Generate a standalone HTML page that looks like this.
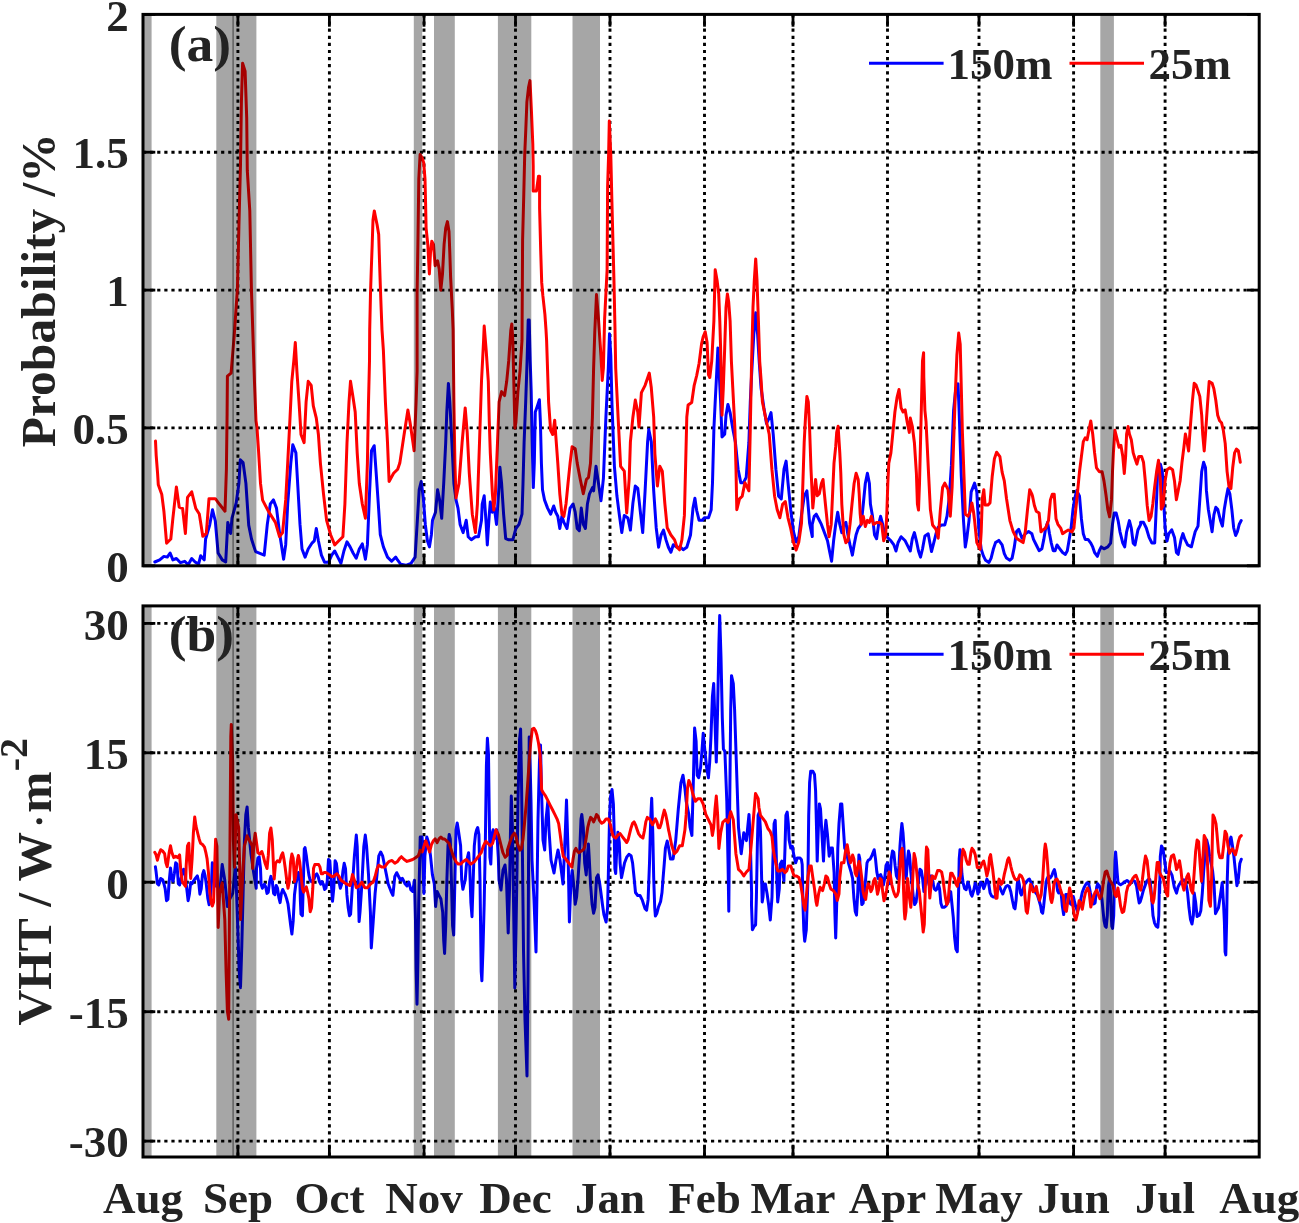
<!DOCTYPE html>
<html><head><meta charset="utf-8"><style>
html,body{margin:0;padding:0;background:#fff;}
svg{display:block;will-change:transform;}
text{font-family:"Liberation Serif",serif;font-weight:bold;fill:#232323;}
</style></head><body>
<svg width="1299" height="1223" viewBox="0 0 1299 1223">
<rect width="1299" height="1223" fill="#fff"/>
<clipPath id="clipa"><rect x="143.0" y="14.4" width="1116.2" height="551.4"/></clipPath>
<g clip-path="url(#clipa)">
<line x1="237.9" y1="14.4" x2="237.9" y2="565.8" stroke="#000" stroke-width="2.9" stroke-dasharray="3.2 3.9"/>
<line x1="329.4" y1="14.4" x2="329.4" y2="565.8" stroke="#000" stroke-width="2.9" stroke-dasharray="3.2 3.9"/>
<line x1="424.0" y1="14.4" x2="424.0" y2="565.8" stroke="#000" stroke-width="2.9" stroke-dasharray="3.2 3.9"/>
<line x1="515.5" y1="14.4" x2="515.5" y2="565.8" stroke="#000" stroke-width="2.9" stroke-dasharray="3.2 3.9"/>
<line x1="610.0" y1="14.4" x2="610.0" y2="565.8" stroke="#000" stroke-width="2.9" stroke-dasharray="3.2 3.9"/>
<line x1="704.5" y1="14.4" x2="704.5" y2="565.8" stroke="#000" stroke-width="2.9" stroke-dasharray="3.2 3.9"/>
<line x1="793.0" y1="14.4" x2="793.0" y2="565.8" stroke="#000" stroke-width="2.9" stroke-dasharray="3.2 3.9"/>
<line x1="887.5" y1="14.4" x2="887.5" y2="565.8" stroke="#000" stroke-width="2.9" stroke-dasharray="3.2 3.9"/>
<line x1="979.0" y1="14.4" x2="979.0" y2="565.8" stroke="#000" stroke-width="2.9" stroke-dasharray="3.2 3.9"/>
<line x1="1073.6" y1="14.4" x2="1073.6" y2="565.8" stroke="#000" stroke-width="2.9" stroke-dasharray="3.2 3.9"/>
<line x1="1165.1" y1="14.4" x2="1165.1" y2="565.8" stroke="#000" stroke-width="2.9" stroke-dasharray="3.2 3.9"/>
<line x1="143.0" y1="427.9" x2="1259.2" y2="427.9" stroke="#000" stroke-width="2.9" stroke-dasharray="3.2 3.9"/>
<line x1="143.0" y1="290.1" x2="1259.2" y2="290.1" stroke="#000" stroke-width="2.9" stroke-dasharray="3.2 3.9"/>
<line x1="143.0" y1="152.2" x2="1259.2" y2="152.2" stroke="#000" stroke-width="2.9" stroke-dasharray="3.2 3.9"/>
<polyline points="154.8,562.0 159.7,559.9 163.9,556.4 167.3,557.1 170.1,553.0 172.9,559.9 176.4,558.5 180.5,562.7 184.7,561.3 188.2,564.8 191.7,558.5 195.1,562.0 198.6,564.1 200.7,555.7 204.2,559.9 205.6,539.0 209.7,525.1 212.5,509.8 215.3,521.0 218.1,553.0 222.3,559.9 225.7,562.0 227.8,522.4 230.6,533.5 232.0,518.2 236.2,502.9 238.9,483.4 240.3,459.8 243.1,462.6 245.9,483.4 248.7,525.1 251.5,539.0 254.2,547.4 255.6,551.6 264.2,555.1 267.3,524.4 270.3,504.0 273.4,499.9 276.5,508.1 279.5,532.6 283.6,559.2 285.7,544.9 287.7,504.0 290.8,463.1 292.8,444.7 295.9,452.9 297.9,487.6 300.0,524.4 302.0,549.0 305.1,557.1 308.2,549.0 312.2,542.8 314.3,540.8 316.3,528.5 318.4,540.8 321.4,555.1 324.5,562.2 328.6,562.2 331.7,555.1 334.7,551.0 337.8,557.1 340.9,563.3 343.9,551.0 347.0,541.8 350.1,546.9 353.1,553.0 356.2,558.2 359.3,549.0 362.3,543.9 365.4,559.2 367.4,544.9 369.5,493.8 371.5,450.8 374.2,445.7 376.2,473.3 378.3,504.0 380.3,534.7 383.4,546.9 387.5,557.1 391.6,561.2 395.7,557.1 397.7,560.2 400.8,564.3 405.9,565.3 411.0,563.3 415.1,557.1 417.1,524.4 419.2,489.7 421.2,481.5 423.3,497.9 425.3,524.4 427.4,540.8 429.4,546.9 431.4,534.7 432.5,520.3 435.5,512.2 437.6,489.7 439.6,499.9 441.7,518.3 443.7,483.5 445.7,442.7 446.8,412.0 448.4,383.4 449.8,401.8 451.9,442.7 453.9,483.5 456.0,499.9 458.0,508.1 460.1,524.4 463.1,532.6 466.2,520.3 468.2,536.7 471.3,539.8 475.4,536.7 478.5,536.7 481.5,520.3 482.2,504.0 484.2,495.8 486.2,524.4 487.3,544.9 489.3,514.2 490.3,501.9 492.4,512.2 494.4,508.1 496.5,524.4 498.5,493.8 499.9,467.2 501.6,483.5 503.6,514.2 505.7,538.7 508.7,539.8 512.8,539.8 515.9,528.5 519.0,524.4 522.0,514.2 523.0,483.5 524.1,442.7 525.7,401.8 527.1,360.9 528.2,320.0 529.2,320.0 530.2,360.9 531.2,391.6 532.2,442.7 533.3,487.6 534.3,463.1 535.3,412.0 537.4,405.9 539.4,399.7 540.4,422.2 541.4,463.1 542.5,489.7 544.5,499.9 547.6,508.1 550.6,514.2 553.7,506.0 555.7,512.2 557.8,516.3 559.8,528.5 561.9,516.3 563.9,522.4 567.0,528.5 570.1,508.1 573.1,504.0 575.2,512.2 577.2,528.5 579.3,530.6 581.3,508.1 583.3,524.4 585.4,528.5 587.4,504.0 589.5,493.8 592.5,487.6 593.6,490.9 596.0,466.3 598.5,483.5 601.0,500.7 603.4,478.6 605.9,417.2 608.3,368.2 609.5,333.8 610.8,355.9 612.0,405.0 614.4,466.3 616.9,495.8 619.4,515.4 621.8,532.6 624.3,515.4 627.9,517.9 630.4,530.1 632.9,503.1 635.3,486.0 637.8,488.4 640.2,510.5 642.7,532.6 645.1,490.9 647.6,441.8 648.8,429.5 651.3,441.8 653.7,490.9 656.2,527.7 658.6,547.3 661.1,535.0 663.5,530.1 666.0,539.9 668.4,547.3 670.9,552.2 673.3,544.8 677.0,547.3 680.7,547.3 683.2,549.8 686.8,547.3 690.5,535.0 693.0,508.0 694.9,498.2 696.7,510.5 699.1,520.3 702.3,520.3 704.4,517.8 708.5,517.8 711.2,509.7 712.5,482.7 713.9,428.8 715.2,401.8 716.6,374.8 717.9,347.9 719.3,374.8 720.6,401.8 722.0,436.9 724.7,434.2 726.0,415.3 727.9,404.5 730.1,412.6 732.8,428.8 735.4,442.2 738.1,469.2 740.8,482.7 743.5,482.7 746.2,477.3 748.9,442.2 750.3,401.8 751.6,374.8 753.8,334.4 755.7,312.8 757.6,334.4 759.2,361.3 761.1,388.3 763.8,407.2 766.5,423.4 769.2,418.0 771.0,412.6 773.2,434.2 775.9,469.2 778.6,496.2 781.3,498.9 784.0,469.2 786.1,461.1 788.0,482.7 790.7,509.7 793.4,531.2 796.1,542.0 798.8,536.6 801.5,515.1 804.2,496.2 806.9,490.8 809.6,523.1 812.3,536.6 812.2,524.4 814.2,516.3 816.2,514.2 818.3,518.3 821.4,524.4 824.4,532.6 827.5,540.8 829.5,551.0 831.6,561.2 833.6,540.8 835.7,524.4 837.7,512.2 839.8,524.4 841.8,532.6 843.8,524.4 845.9,522.4 847.9,534.7 850.0,544.9 852.4,555.1 854.1,544.9 856.1,534.7 858.2,528.5 861.2,524.4 863.3,504.0 865.3,483.5 867.4,473.3 869.4,483.5 870.4,504.0 872.5,516.3 874.5,534.7 876.6,538.7 878.6,524.4 880.6,516.3 882.7,524.4 884.7,534.7 886.8,536.7 888.8,538.7 890.9,540.8 893.9,544.9 896.0,551.0 898.0,542.8 901.1,536.7 905.2,540.8 907.2,544.9 910.3,551.0 912.3,538.7 914.4,532.6 916.4,540.8 918.5,551.0 920.5,557.1 922.5,549.0 924.9,536.0 928.2,533.8 931.5,551.5 933.8,542.6 936.0,533.8 938.2,527.2 941.5,525.0 944.8,525.0 947.0,516.2 949.2,498.5 951.4,465.4 953.6,410.3 955.8,388.2 958.0,383.8 959.1,410.3 960.2,443.4 961.3,476.5 962.4,498.5 963.5,520.6 965.3,547.1 966.8,538.2 969.0,520.6 971.2,491.9 974.6,483.1 976.8,491.9 979.0,531.6 981.2,549.3 983.4,555.9 985.6,560.3 988.9,562.5 991.1,558.1 993.3,549.3 995.5,542.6 998.8,540.4 1002.1,544.9 1004.3,553.7 1006.5,558.1 1009.9,560.3 1012.1,558.1 1014.3,547.1 1016.5,531.6 1018.7,529.4 1022.0,538.2 1025.3,533.8 1028.6,531.6 1031.9,533.8 1033.5,539.4 1036.3,545.0 1039.1,550.7 1041.9,548.8 1043.8,539.4 1045.7,528.1 1047.6,522.4 1049.5,533.7 1051.3,543.1 1053.2,550.7 1055.1,550.7 1057.0,545.0 1059.8,548.8 1062.6,552.5 1065.4,554.4 1067.3,550.7 1069.2,539.4 1071.1,528.1 1073.0,509.3 1074.8,498.0 1076.7,490.5 1079.5,496.1 1081.4,518.7 1083.3,533.7 1085.2,539.4 1088.0,539.4 1090.8,543.1 1092.7,546.9 1094.6,552.5 1097.4,556.3 1099.3,550.7 1101.2,546.9 1104.0,548.8 1107.8,546.9 1110.6,543.1 1112.5,524.3 1114.3,513.0 1116.2,513.0 1118.1,520.6 1120.0,531.8 1122.8,543.1 1124.7,546.9 1126.6,531.8 1129.4,520.6 1131.3,528.1 1133.2,543.1 1135.0,545.0 1137.9,530.0 1140.7,524.3 1140.6,522.3 1143.5,522.3 1146.3,528.0 1149.1,537.4 1151.9,543.0 1154.7,543.0 1156.6,499.8 1157.6,471.6 1160.4,464.1 1162.3,471.6 1163.2,490.4 1164.1,509.2 1165.1,528.0 1167.0,541.1 1168.8,533.6 1171.7,529.8 1174.5,537.4 1176.4,552.4 1178.2,554.3 1181.1,539.2 1182.9,533.6 1184.8,539.2 1187.6,544.9 1191.4,546.8 1193.3,539.2 1195.2,531.7 1198.0,526.1 1199.8,499.8 1201.7,471.6 1203.6,462.2 1205.5,467.8 1206.4,490.4 1208.3,509.2 1210.2,520.5 1212.1,531.7 1213.9,514.8 1215.8,507.3 1217.7,509.2 1220.5,520.5 1222.4,526.1 1224.3,509.2 1226.2,497.9 1228.0,488.5 1229.9,494.1 1231.8,509.2 1233.7,528.0 1235.6,535.5 1237.4,531.7 1239.3,524.2 1241.2,520.5" fill="none" stroke="#0000ff" stroke-width="3.0" stroke-linejoin="round" stroke-linecap="round"/>
<polyline points="155.5,441.0 156.2,455.6 157.6,473.7 158.3,484.8 161.8,494.6 163.9,511.2 166.6,543.2 170.8,539.0 172.9,518.2 176.4,486.9 179.2,507.1 182.6,508.5 185.4,533.5 187.5,497.3 191.7,491.8 195.8,508.5 199.3,514.0 202.8,536.3 206.3,533.5 209.0,498.7 215.3,498.7 219.5,504.3 225.0,511.2 226.4,469.5 227.1,413.9 227.4,376.2 231.1,373.1 234.2,335.7 237.4,289.0 238.9,226.8 240.5,164.5 241.4,102.3 242.6,63.3 245.1,71.1 246.7,117.8 247.3,170.7 249.8,211.2 251.4,289.0 254.5,382.4 256.0,420.7 257.0,427.8 258.4,448.7 260.5,483.4 262.6,500.1 268.3,511.1 275.4,522.4 279.5,536.7 282.6,532.6 285.7,499.9 287.7,463.1 289.8,422.2 291.8,381.3 293.8,360.9 295.3,342.5 296.9,371.1 299.0,401.8 301.0,434.5 304.1,442.7 306.1,401.8 308.2,381.3 311.2,385.4 313.3,405.9 316.3,418.1 318.4,434.5 320.4,463.1 323.5,493.8 326.6,520.3 330.6,534.7 334.7,544.9 338.8,540.8 342.9,536.7 344.9,504.0 347.0,442.7 349.0,401.8 350.5,381.3 353.1,397.7 355.2,412.0 357.2,452.9 359.3,483.5 362.3,504.0 365.4,518.3 367.4,463.1 368.5,401.8 369.5,360.9 369.7,329.9 370.5,293.5 371.3,269.0 372.2,244.4 373.0,219.9 374.3,210.9 375.4,216.6 377.1,224.8 378.7,234.6 379.5,260.8 380.3,285.3 381.2,309.8 382.0,329.9 383.4,350.7 385.4,401.8 387.5,442.7 389.1,481.5 393.6,473.3 397.7,469.2 399.8,463.1 403.8,436.5 407.9,409.9 410.0,422.2 413.0,442.7 414.1,450.8 416.1,401.8 417.1,371.1 417.1,293.5 417.9,244.4 418.8,179.0 420.1,154.5 422.0,157.8 423.7,162.7 425.0,179.0 425.6,203.6 426.1,228.1 427.8,244.4 429.4,273.9 430.5,252.6 431.8,241.2 433.5,244.4 435.1,265.7 437.6,260.8 439.2,269.0 440.8,290.2 442.5,273.9 444.1,244.4 445.7,228.1 447.4,221.6 449.0,231.4 449.8,252.6 450.6,277.1 452.3,309.8 453.1,329.9 453.9,401.8 454.9,463.1 456.0,497.9 459.0,483.5 462.1,442.7 465.2,407.9 467.2,432.4 469.3,473.3 472.3,514.2 475.4,532.6 477.4,504.0 479.5,442.7 481.5,381.3 483.6,340.4 484.2,326.1 486.2,350.7 488.3,381.3 489.3,422.2 490.3,452.9 492.4,493.8 493.8,510.1 495.4,493.8 497.5,442.7 499.1,401.8 501.6,391.6 504.6,395.6 506.7,381.3 508.7,360.9 510.8,330.2 511.8,324.1 512.8,340.4 513.8,381.3 514.9,428.3 515.9,422.2 517.9,391.6 520.0,371.1 522.0,340.4 522.6,239.9 523.7,197.5 524.7,155.0 525.8,129.5 526.9,101.9 528.6,87.0 530.0,80.6 531.5,112.5 532.8,144.3 533.2,165.6 533.2,191.1 536.4,191.1 538.5,176.2 539.6,176.2 539.6,208.1 540.7,250.6 541.7,282.4 542.8,295.2 544.9,314.3 546.0,329.8 546.6,340.4 547.6,371.1 548.6,401.8 550.6,430.4 552.7,434.5 554.7,420.2 555.7,434.5 557.8,463.1 559.8,493.8 561.9,514.2 563.9,516.3 566.0,504.0 568.0,483.5 570.1,463.1 572.1,446.7 575.2,448.8 577.2,463.1 580.3,479.5 583.3,493.8 586.4,479.5 588.5,477.4 590.5,463.1 592.4,417.2 593.6,368.2 594.8,331.3 596.5,294.5 598.5,319.1 601.0,355.9 602.2,380.4 603.4,368.2 604.6,319.1 607.1,270.0 607.6,186.8 608.6,155.0 609.3,121.0 610.8,155.0 611.8,197.5 612.9,239.9 614.0,282.4 615.0,329.8 615.7,368.2 618.1,417.2 620.6,466.3 624.3,471.2 626.7,512.9 629.2,478.6 630.4,441.8 632.9,417.2 635.3,400.1 637.8,412.3 639.0,427.1 641.4,392.7 645.1,385.3 649.3,373.1 651.3,387.8 653.7,417.2 654.9,454.0 657.4,486.0 659.8,466.3 662.3,471.2 664.8,503.1 667.2,527.7 670.9,535.0 674.6,539.9 677.0,547.3 679.5,549.8 681.9,539.9 684.4,515.4 685.6,466.3 686.8,417.2 688.1,405.0 691.7,402.5 694.2,385.3 696.7,375.5 699.1,363.3 701.6,343.6 703.1,337.1 705.2,331.7 707.1,342.5 708.5,374.8 709.8,377.5 711.7,361.3 713.9,320.9 715.2,269.7 717.1,280.4 718.7,293.9 719.8,320.9 720.6,347.9 722.0,415.3 723.3,388.3 724.7,347.9 726.0,307.4 727.4,293.9 728.7,302.0 730.1,320.9 731.4,361.3 732.8,388.3 734.9,428.8 736.0,469.2 736.8,509.7 739.5,498.9 742.2,496.2 744.9,482.7 747.6,488.1 748.9,490.8 750.3,428.8 751.6,361.3 753.0,307.4 754.3,280.4 755.7,258.9 757.0,280.4 758.4,320.9 759.7,361.3 761.1,380.2 762.4,401.8 765.1,415.3 769.2,434.2 771.9,469.2 774.6,496.2 777.2,509.7 779.9,517.8 782.6,504.3 785.3,501.6 788.0,517.8 790.7,528.5 793.4,542.0 796.1,550.1 798.8,542.0 801.5,523.1 802.9,482.7 804.2,442.2 805.6,415.3 806.9,396.4 808.3,401.8 809.6,428.8 811.0,469.2 812.3,496.2 812.8,508.1 814.2,493.8 815.6,479.5 817.3,495.8 819.3,493.8 821.4,483.5 823.0,479.5 824.4,493.8 825.4,504.0 827.5,524.4 829.1,536.7 831.2,524.4 832.6,493.8 834.0,463.1 835.7,446.7 836.7,432.4 838.1,426.3 839.8,452.9 840.8,473.3 841.8,504.0 843.8,534.7 845.9,542.8 847.9,540.8 850.0,524.4 852.0,504.0 854.1,483.5 856.1,473.3 858.2,479.5 859.2,493.8 860.2,514.2 861.2,524.4 863.3,516.3 865.3,526.5 867.4,520.3 869.4,522.4 871.4,516.3 873.5,524.4 876.6,522.4 879.6,522.4 881.7,524.4 883.7,540.8 885.7,534.7 886.8,514.2 887.8,483.5 888.8,463.1 890.9,452.9 892.9,432.4 894.9,412.0 897.0,397.7 899.0,389.5 901.1,407.9 903.1,412.0 905.2,409.9 907.2,422.2 909.3,432.4 910.3,418.1 912.3,426.3 914.4,442.7 916.4,473.3 917.4,504.0 918.5,510.1 919.5,483.5 920.5,442.7 921.5,401.8 922.5,360.9 923.6,352.7 923.8,377.2 924.9,410.3 926.0,421.3 927.1,443.4 928.7,476.5 930.4,509.6 932.6,525.0 936.0,529.4 938.2,538.2 940.4,509.6 942.6,487.5 944.8,483.1 948.1,489.7 950.3,516.2 952.1,487.5 953.6,443.4 955.1,399.3 956.9,355.1 958.7,333.1 960.2,344.1 961.3,388.2 962.4,432.4 964.0,476.5 965.3,514.0 967.9,516.2 970.1,511.8 971.9,502.9 973.5,511.8 974.6,520.6 976.8,542.6 980.1,549.3 981.2,531.6 982.3,498.5 983.8,489.7 985.1,505.1 987.8,505.1 990.0,502.9 992.2,476.5 994.4,458.8 996.6,452.2 999.9,456.6 1002.1,472.1 1004.3,480.9 1006.5,498.5 1009.9,520.6 1013.2,531.6 1016.5,538.2 1019.8,540.4 1023.1,542.6 1025.3,531.6 1027.5,509.6 1029.7,489.7 1031.9,494.1 1032.5,496.1 1034.4,505.5 1036.3,511.2 1039.1,513.0 1041.0,531.8 1042.9,530.0 1045.7,528.1 1048.5,520.6 1050.4,499.9 1052.3,494.2 1054.2,494.2 1056.0,518.7 1057.9,524.3 1060.7,528.1 1062.6,533.7 1065.4,531.8 1068.3,530.0 1072.0,531.8 1073.9,528.1 1075.8,509.3 1077.7,490.5 1079.5,471.7 1081.4,456.6 1083.3,441.6 1085.2,437.8 1087.1,439.7 1088.9,430.3 1090.8,420.9 1092.7,434.0 1094.6,452.9 1096.5,467.9 1099.3,471.7 1102.1,471.7 1104.0,481.1 1105.9,494.2 1107.8,509.3 1109.6,516.8 1111.5,499.9 1112.5,471.7 1113.4,452.9 1114.9,430.3 1117.2,439.7 1119.0,447.2 1120.9,445.3 1122.8,456.6 1124.3,473.5 1125.6,456.6 1126.6,434.0 1128.1,426.5 1129.4,434.0 1131.3,439.7 1133.2,452.9 1135.0,458.5 1136.9,464.1 1138.8,456.6 1138.8,456.5 1141.6,456.5 1143.5,462.2 1145.3,481.0 1147.2,505.4 1149.1,520.5 1151.0,516.7 1152.9,503.5 1154.7,486.6 1156.6,471.6 1158.5,460.3 1160.4,481.0 1161.3,509.2 1163.2,505.4 1165.1,481.0 1167.0,469.7 1169.8,467.8 1172.6,469.7 1174.5,481.0 1176.4,499.8 1178.2,490.4 1180.1,481.0 1182.0,462.2 1183.9,447.1 1185.4,434.0 1187.3,443.4 1188.6,450.9 1190.5,424.6 1192.3,402.0 1194.2,383.2 1196.1,385.1 1198.0,390.8 1199.8,396.4 1201.7,415.2 1202.7,434.0 1204.2,450.9 1205.5,434.0 1207.4,405.8 1209.2,381.4 1212.1,383.2 1213.9,388.9 1215.8,400.2 1217.7,415.2 1219.6,420.8 1221.5,422.7 1223.3,430.2 1225.2,443.4 1227.1,471.6 1229.0,486.6 1230.9,488.5 1232.7,467.8 1234.6,452.8 1236.5,449.0 1238.4,450.9 1240.3,462.2" fill="none" stroke="#ff0000" stroke-width="3.0" stroke-linejoin="round" stroke-linecap="round"/>
<rect x="140.0" y="9.4" width="11.6" height="561.4" fill="#000" fill-opacity="0.35"/>
<rect x="216.3" y="9.4" width="40.1" height="561.4" fill="#000" fill-opacity="0.35"/>
<rect x="413.8" y="9.4" width="8.4" height="561.4" fill="#000" fill-opacity="0.35"/>
<rect x="434.0" y="9.4" width="20.8" height="561.4" fill="#000" fill-opacity="0.35"/>
<rect x="497.9" y="9.4" width="33.4" height="561.4" fill="#000" fill-opacity="0.35"/>
<rect x="572.5" y="9.4" width="27.5" height="561.4" fill="#000" fill-opacity="0.35"/>
<rect x="1100.3" y="9.4" width="13.6" height="561.4" fill="#000" fill-opacity="0.35"/>
<line x1="233.1" y1="14.4" x2="233.1" y2="565.8" stroke="#000" stroke-opacity="0.45" stroke-width="1.4"/>
</g>
<line x1="237.9" y1="565.8" x2="237.9" y2="553.5" stroke="#000" stroke-width="2.8"/>
<line x1="237.9" y1="14.4" x2="237.9" y2="26.7" stroke="#000" stroke-width="2.8"/>
<line x1="329.4" y1="565.8" x2="329.4" y2="553.5" stroke="#000" stroke-width="2.8"/>
<line x1="329.4" y1="14.4" x2="329.4" y2="26.7" stroke="#000" stroke-width="2.8"/>
<line x1="424.0" y1="565.8" x2="424.0" y2="553.5" stroke="#000" stroke-width="2.8"/>
<line x1="424.0" y1="14.4" x2="424.0" y2="26.7" stroke="#000" stroke-width="2.8"/>
<line x1="515.5" y1="565.8" x2="515.5" y2="553.5" stroke="#000" stroke-width="2.8"/>
<line x1="515.5" y1="14.4" x2="515.5" y2="26.7" stroke="#000" stroke-width="2.8"/>
<line x1="610.0" y1="565.8" x2="610.0" y2="553.5" stroke="#000" stroke-width="2.8"/>
<line x1="610.0" y1="14.4" x2="610.0" y2="26.7" stroke="#000" stroke-width="2.8"/>
<line x1="704.5" y1="565.8" x2="704.5" y2="553.5" stroke="#000" stroke-width="2.8"/>
<line x1="704.5" y1="14.4" x2="704.5" y2="26.7" stroke="#000" stroke-width="2.8"/>
<line x1="793.0" y1="565.8" x2="793.0" y2="553.5" stroke="#000" stroke-width="2.8"/>
<line x1="793.0" y1="14.4" x2="793.0" y2="26.7" stroke="#000" stroke-width="2.8"/>
<line x1="887.5" y1="565.8" x2="887.5" y2="553.5" stroke="#000" stroke-width="2.8"/>
<line x1="887.5" y1="14.4" x2="887.5" y2="26.7" stroke="#000" stroke-width="2.8"/>
<line x1="979.0" y1="565.8" x2="979.0" y2="553.5" stroke="#000" stroke-width="2.8"/>
<line x1="979.0" y1="14.4" x2="979.0" y2="26.7" stroke="#000" stroke-width="2.8"/>
<line x1="1073.6" y1="565.8" x2="1073.6" y2="553.5" stroke="#000" stroke-width="2.8"/>
<line x1="1073.6" y1="14.4" x2="1073.6" y2="26.7" stroke="#000" stroke-width="2.8"/>
<line x1="1165.1" y1="565.8" x2="1165.1" y2="553.5" stroke="#000" stroke-width="2.8"/>
<line x1="1165.1" y1="14.4" x2="1165.1" y2="26.7" stroke="#000" stroke-width="2.8"/>
<line x1="143.0" y1="565.8" x2="155.3" y2="565.8" stroke="#000" stroke-width="2.8"/>
<line x1="1259.2" y1="565.8" x2="1246.9" y2="565.8" stroke="#000" stroke-width="2.8"/>
<text x="128.8" y="582.0" text-anchor="end" font-size="45">0</text>
<line x1="143.0" y1="427.9" x2="155.3" y2="427.9" stroke="#000" stroke-width="2.8"/>
<line x1="1259.2" y1="427.9" x2="1246.9" y2="427.9" stroke="#000" stroke-width="2.8"/>
<text x="128.8" y="444.1" text-anchor="end" font-size="45">0.5</text>
<line x1="143.0" y1="290.1" x2="155.3" y2="290.1" stroke="#000" stroke-width="2.8"/>
<line x1="1259.2" y1="290.1" x2="1246.9" y2="290.1" stroke="#000" stroke-width="2.8"/>
<text x="128.8" y="306.3" text-anchor="end" font-size="45">1</text>
<line x1="143.0" y1="152.2" x2="155.3" y2="152.2" stroke="#000" stroke-width="2.8"/>
<line x1="1259.2" y1="152.2" x2="1246.9" y2="152.2" stroke="#000" stroke-width="2.8"/>
<text x="128.8" y="168.4" text-anchor="end" font-size="45">1.5</text>
<line x1="143.0" y1="14.4" x2="155.3" y2="14.4" stroke="#000" stroke-width="2.8"/>
<line x1="1259.2" y1="14.4" x2="1246.9" y2="14.4" stroke="#000" stroke-width="2.8"/>
<text x="128.8" y="30.6" text-anchor="end" font-size="45">2</text>
<rect x="143.0" y="14.4" width="1116.2" height="551.4" fill="none" stroke="#000" stroke-width="3"/>
<line x1="869" y1="63.2" x2="943.6" y2="63.2" stroke="#0000ff" stroke-width="3"/>
<line x1="1069.5" y1="63.2" x2="1144" y2="63.2" stroke="#ff0000" stroke-width="3"/>
<text x="947.4" y="79.1" font-size="45">150m</text>
<text x="1148.6" y="79.1" font-size="45">25m</text>
<text transform="translate(168.8,60.5) scale(1,0.94)" font-size="53.5">(a)</text>
<clipPath id="clipb"><rect x="143.0" y="605.9" width="1116.2" height="551.1"/></clipPath>
<g clip-path="url(#clipb)">
<line x1="237.9" y1="605.9" x2="237.9" y2="1157.0" stroke="#000" stroke-width="2.9" stroke-dasharray="3.2 3.9"/>
<line x1="329.4" y1="605.9" x2="329.4" y2="1157.0" stroke="#000" stroke-width="2.9" stroke-dasharray="3.2 3.9"/>
<line x1="424.0" y1="605.9" x2="424.0" y2="1157.0" stroke="#000" stroke-width="2.9" stroke-dasharray="3.2 3.9"/>
<line x1="515.5" y1="605.9" x2="515.5" y2="1157.0" stroke="#000" stroke-width="2.9" stroke-dasharray="3.2 3.9"/>
<line x1="610.0" y1="605.9" x2="610.0" y2="1157.0" stroke="#000" stroke-width="2.9" stroke-dasharray="3.2 3.9"/>
<line x1="704.5" y1="605.9" x2="704.5" y2="1157.0" stroke="#000" stroke-width="2.9" stroke-dasharray="3.2 3.9"/>
<line x1="793.0" y1="605.9" x2="793.0" y2="1157.0" stroke="#000" stroke-width="2.9" stroke-dasharray="3.2 3.9"/>
<line x1="887.5" y1="605.9" x2="887.5" y2="1157.0" stroke="#000" stroke-width="2.9" stroke-dasharray="3.2 3.9"/>
<line x1="979.0" y1="605.9" x2="979.0" y2="1157.0" stroke="#000" stroke-width="2.9" stroke-dasharray="3.2 3.9"/>
<line x1="1073.6" y1="605.9" x2="1073.6" y2="1157.0" stroke="#000" stroke-width="2.9" stroke-dasharray="3.2 3.9"/>
<line x1="1165.1" y1="605.9" x2="1165.1" y2="1157.0" stroke="#000" stroke-width="2.9" stroke-dasharray="3.2 3.9"/>
<line x1="143.0" y1="1141.1" x2="1259.2" y2="1141.1" stroke="#000" stroke-width="2.9" stroke-dasharray="3.2 3.9"/>
<line x1="143.0" y1="1011.7" x2="1259.2" y2="1011.7" stroke="#000" stroke-width="2.9" stroke-dasharray="3.2 3.9"/>
<line x1="143.0" y1="882.2" x2="1259.2" y2="882.2" stroke="#000" stroke-width="2.9" stroke-dasharray="3.2 3.9"/>
<line x1="143.0" y1="752.8" x2="1259.2" y2="752.8" stroke="#000" stroke-width="2.9" stroke-dasharray="3.2 3.9"/>
<line x1="143.0" y1="623.4" x2="1259.2" y2="623.4" stroke="#000" stroke-width="2.9" stroke-dasharray="3.2 3.9"/>
<polyline points="155.4,866.7 156.1,871.9 157.4,883.7 158.7,885.0 160.7,878.5 162.6,879.8 163.9,883.7 165.2,889.0 166.5,900.7 167.9,899.4 169.2,881.1 170.5,868.0 171.8,878.5 173.1,881.1 174.4,873.3 175.7,862.8 177.0,864.1 178.3,883.7 179.6,885.0 181.6,875.9 183.6,869.3 184.9,873.3 186.8,889.0 188.1,900.7 189.4,894.2 190.7,882.4 192.1,883.7 193.4,881.1 195.3,878.5 197.3,875.9 198.6,881.1 199.9,894.2 201.2,889.0 202.5,874.6 203.8,870.6 205.1,875.9 206.4,885.0 207.8,898.1 209.1,904.7 210.4,899.4 211.7,878.5 212.3,862.8 213.6,865.4 214.9,881.1 216.3,886.3 216.9,880.3 219.6,893.4 222.2,864.6 224.8,880.3 227.4,906.5 230.0,898.6 232.7,893.4 234.0,880.3 235.3,867.2 236.6,893.4 237.9,932.7 239.2,972.0 240.5,987.7 241.8,945.8 243.1,893.4 244.4,841.0 245.8,814.8 247.1,806.9 248.4,827.9 251.0,854.1 253.6,872.4 256.2,888.2 256.5,868.5 257.9,858.1 259.2,856.8 260.5,868.5 261.1,884.2 262.4,888.2 264.4,884.2 265.7,886.9 267.0,893.4 268.3,892.1 269.6,881.6 270.9,876.4 272.3,881.6 273.6,893.4 274.9,894.7 276.2,885.5 277.5,888.2 278.8,897.3 280.1,902.6 281.4,893.4 282.7,889.5 284.0,892.1 285.3,894.7 286.6,898.6 288.0,903.9 289.3,914.3 290.6,924.8 291.9,934.0 293.2,920.9 294.5,894.7 295.8,884.2 297.1,879.0 298.4,872.5 299.7,875.1 300.4,901.3 301.0,914.3 302.4,915.7 303.0,894.7 303.7,868.5 304.3,848.9 305.0,847.6 306.3,855.4 307.6,865.9 308.9,875.1 310.2,880.3 311.5,881.6 312.8,880.3 314.1,879.0 315.4,875.1 316.8,873.8 318.1,876.4 319.4,881.6 320.7,884.2 322.0,881.6 323.3,884.2 324.6,889.5 325.9,888.2 327.2,881.6 328.5,859.4 329.8,860.7 331.2,881.6 332.5,901.3 333.8,888.2 335.1,860.7 336.4,863.3 337.7,875.1 339.0,881.6 340.3,888.2 341.6,884.2 342.9,871.2 344.2,863.3 345.5,868.5 346.9,894.7 348.2,907.8 349.5,915.7 350.6,914.1 352.5,884.0 354.4,855.8 356.3,835.1 357.2,846.4 358.2,884.0 359.1,921.6 360.0,912.2 361.9,884.0 363.8,846.4 365.3,835.1 366.6,846.4 368.5,874.6 370.4,912.2 371.3,947.9 373.2,921.6 375.1,893.4 377.0,874.6 378.8,855.8 380.7,852.0 382.6,855.8 384.5,865.2 386.4,874.6 388.2,884.0 391.1,891.5 392.9,895.3 394.8,876.5 396.7,872.7 398.6,876.5 400.5,880.2 402.3,878.3 405.2,884.0 407.0,885.9 408.9,882.1 410.8,889.6 412.7,891.5 414.5,880.2 415.5,921.6 416.1,968.6 417.0,1004.3 417.9,959.2 418.7,902.8 419.6,865.2 420.2,837.0 422.1,837.0 423.0,861.4 423.9,893.4 424.9,855.8 426.8,837.0 428.6,842.6 430.5,855.8 432.4,874.6 434.3,884.0 435.6,906.5 437.1,891.5 439.0,895.3 440.9,899.0 442.7,912.2 443.7,940.4 444.6,953.5 444.6,953.3 445.7,925.9 446.9,880.1 448.0,845.8 449.2,834.4 450.3,839.0 451.4,880.1 452.6,925.9 453.7,935.0 454.9,880.1 456.0,829.8 457.2,822.9 458.3,829.8 460.6,845.8 461.7,880.1 462.9,889.3 464.0,884.7 465.2,880.1 466.3,866.4 467.5,857.3 468.6,852.7 469.7,866.4 470.9,903.0 472.0,916.7 473.2,880.1 474.3,845.8 475.5,834.4 476.6,829.8 477.7,827.5 478.9,834.4 480.0,880.1 481.2,971.6 481.9,980.8 483.0,948.8 484.2,903.0 485.3,845.8 486.4,765.8 487.4,738.3 488.5,754.3 489.2,811.5 489.9,857.3 490.8,864.1 491.9,834.4 493.1,829.8 494.2,839.0 495.4,832.1 496.7,829.8 498.3,857.3 499.0,880.0 501.0,890.0 503.0,870.0 505.0,865.0 506.5,880.0 508.2,933.0 509.5,890.0 510.5,830.0 511.3,796.0 512.5,830.0 513.5,900.0 514.8,988.0 516.0,930.0 517.0,870.0 518.0,800.0 519.5,740.0 520.6,729.0 521.5,780.0 522.5,860.0 523.5,950.0 525.0,1020.0 527.0,1076.0 528.0,980.0 528.5,870.0 529.2,737.0 530.0,760.0 531.0,800.0 532.0,860.0 533.0,880.0 534.0,900.0 536.0,952.0 537.0,890.0 538.0,820.0 539.5,760.0 540.5,745.0 541.5,790.0 543.0,840.0 544.7,850.0 546.0,820.0 547.8,802.0 549.0,830.0 551.0,860.0 554.0,873.0 556.0,860.0 558.0,850.0 560.0,860.0 563.0,884.0 565.0,840.0 566.5,800.0 568.0,850.0 569.4,922.0 571.0,880.0 572.2,870.5 573.7,885.2 575.2,904.3 576.6,897.0 578.1,877.8 579.6,854.3 581.0,818.9 581.8,814.5 583.3,827.7 584.7,863.1 586.2,874.9 587.7,851.3 588.4,843.9 589.1,855.7 590.6,885.2 592.1,904.3 593.6,913.2 595.0,907.3 596.5,877.8 598.0,874.9 599.5,882.2 600.9,892.5 602.4,904.3 603.9,914.6 606.1,922.0 607.6,907.3 608.6,863.1 609.5,818.9 610.5,796.8 612.0,789.5 613.4,804.2 614.2,833.6 614.9,869.0 615.7,873.4 616.8,848.4 617.9,832.2 619.3,842.5 620.1,863.1 621.5,877.8 623.0,870.5 624.5,863.1 626.7,857.2 628.9,854.3 631.1,855.7 632.6,863.1 634.1,877.8 635.5,892.5 637.7,895.5 640.0,895.5 642.2,899.9 643.6,904.3 645.1,908.7 646.6,910.2 648.1,899.9 649.5,863.1 650.7,818.9 651.7,798.3 652.8,833.6 653.7,877.8 654.7,907.3 655.4,916.1 656.9,913.2 658.4,907.3 660.6,901.4 662.0,892.5 663.1,877.8 664.3,863.1 665.4,848.4 667.2,841.0 668.7,848.4 670.5,858.9 673.1,858.9 675.7,840.6 678.3,809.2 680.9,783.0 683.0,775.2 684.9,788.2 686.2,801.3 688.8,814.4 690.1,827.5 691.9,835.4 693.5,775.2 694.6,728.0 696.1,741.1 697.2,775.2 698.7,777.8 700.6,767.3 701.9,751.6 703.2,733.3 705.0,751.6 706.6,767.3 708.4,777.8 709.7,762.1 711.0,735.9 712.4,696.6 713.7,683.5 715.0,722.8 716.3,762.1 717.6,709.7 718.9,644.3 719.7,615.5 721.0,657.4 722.3,717.6 723.4,749.0 724.9,751.6 726.8,801.3 728.1,866.8 728.8,911.3 729.6,814.4 730.7,709.7 731.5,675.7 733.3,683.5 734.6,709.7 735.9,749.0 737.2,788.2 738.5,827.5 741.2,853.7 743.8,832.7 746.4,840.6 749.0,814.4 750.3,840.6 751.6,893.0 751.5,905.3 752.4,929.8 754.0,926.5 755.6,924.9 756.4,897.1 757.3,848.1 758.1,815.4 759.4,812.1 760.5,831.7 761.3,864.4 762.2,902.0 763.0,897.1 763.8,884.0 765.4,884.0 767.1,893.8 768.7,905.3 770.3,920.0 772.0,897.1 772.8,864.4 774.1,823.6 775.2,820.3 776.1,848.1 776.9,880.8 777.7,902.0 779.3,888.9 780.1,864.4 781.8,861.1 782.6,867.7 783.9,880.8 785.0,848.1 785.9,815.4 787.2,812.1 788.3,823.6 789.1,839.9 790.8,848.1 792.4,846.4 794.0,856.2 795.7,862.8 797.3,857.9 799.8,857.9 801.4,859.5 802.2,864.4 803.0,905.3 803.8,929.8 804.7,941.2 806.3,929.8 807.9,880.8 808.7,815.4 809.6,782.7 810.7,771.2 812.8,771.2 814.5,774.5 815.6,790.9 816.6,831.7 817.2,861.1 818.2,831.7 819.4,803.9 820.5,808.8 821.8,831.7 823.5,861.1 824.8,831.7 825.9,820.3 827.5,835.0 829.2,856.2 830.8,848.1 832.4,848.1 834.1,872.6 834.9,913.4 835.7,938.0 836.9,897.1 837.8,848.1 839.0,823.6 840.6,803.9 841.8,803.9 843.1,823.6 844.7,848.1 846.3,851.3 848.8,864.4 851.2,872.6 851.3,873.2 852.6,878.5 853.9,898.1 855.2,911.2 856.5,915.1 857.8,891.6 858.9,854.9 859.8,858.9 860.5,885.0 861.8,904.6 863.1,903.3 864.4,891.6 865.7,878.5 867.0,862.8 868.3,860.2 870.3,858.9 872.2,854.9 874.2,849.7 875.5,858.9 876.8,871.9 878.1,878.5 879.4,875.9 880.7,874.6 882.0,878.5 883.4,885.0 884.7,878.5 886.0,865.4 887.3,862.8 888.6,868.0 889.9,883.7 891.2,858.9 892.5,851.0 893.8,852.3 895.1,865.4 896.4,875.9 897.7,878.5 899.0,865.4 900.0,845.8 901.0,832.7 901.9,823.5 903.0,832.7 903.9,845.8 904.9,871.9 906.2,878.5 907.6,858.9 908.5,851.0 909.5,854.9 910.8,871.9 912.1,885.0 913.4,898.1 914.7,904.6 916.1,902.0 917.4,891.6 918.7,878.5 920.0,869.3 921.3,870.6 922.6,878.5 923.9,891.6 925.2,885.0 926.5,871.9 927.8,878.5 929.1,885.0 930.4,875.9 931.7,875.9 933.1,883.7 934.4,888.9 935.7,890.2 937.0,888.9 938.3,883.7 939.6,888.9 940.9,903.3 942.2,907.3 944.2,907.3 946.1,905.9 948.1,902.0 949.4,896.8 950.7,891.6 952.0,904.6 953.3,917.7 954.6,937.3 955.9,949.1 957.3,951.7 957.9,924.3 958.6,891.6 959.2,858.9 960.0,849.7 960.8,852.5 961.9,873.8 963.0,882.3 964.6,888.6 966.2,889.7 967.8,882.3 969.3,886.5 970.9,894.0 972.0,896.1 973.6,890.8 975.2,883.3 976.8,887.6 977.9,894.0 978.9,890.8 980.5,882.3 982.1,883.3 983.7,888.6 985.3,884.4 986.9,879.1 988.5,882.3 990.1,892.9 991.7,896.1 993.3,897.1 994.9,897.1 996.4,892.9 998.0,888.6 999.6,886.5 1001.2,890.8 1002.8,894.0 1004.4,889.7 1006.0,886.5 1007.6,885.5 1009.2,886.5 1010.8,891.8 1012.4,900.3 1014.0,907.8 1015.0,908.8 1016.1,900.3 1017.2,884.4 1018.2,879.1 1019.3,884.4 1020.4,892.9 1021.4,895.0 1023.0,889.7 1024.6,884.4 1026.2,882.3 1027.8,880.1 1029.4,879.1 1031.0,882.3 1032.6,886.5 1034.2,890.8 1035.8,892.9 1037.4,895.0 1039.0,900.3 1040.6,905.7 1041.6,912.0 1042.7,913.1 1043.7,905.7 1044.8,895.0 1045.9,884.4 1046.9,879.1 1048.5,875.9 1050.1,878.0 1051.7,875.9 1053.3,871.6 1054.4,869.5 1055.4,873.8 1056.5,882.3 1057.6,890.8 1058.6,892.9 1060.2,889.7 1061.3,895.0 1062.3,905.7 1063.4,913.1 1063.7,914.6 1064.8,904.0 1065.8,894.4 1067.4,894.4 1069.0,899.7 1070.6,904.0 1072.2,905.0 1073.3,896.5 1074.3,900.8 1075.9,907.1 1077.5,911.4 1079.1,907.1 1080.7,899.7 1082.3,892.3 1083.9,888.0 1085.5,884.8 1087.1,882.7 1088.7,883.8 1090.3,892.3 1091.9,898.6 1093.5,904.0 1095.1,902.9 1096.7,887.0 1097.7,883.8 1099.3,885.9 1100.9,892.3 1102.0,899.7 1103.0,910.3 1104.1,921.0 1105.2,926.3 1106.2,927.3 1107.3,915.6 1107.8,899.7 1108.4,885.9 1109.4,879.5 1110.5,892.3 1111.0,910.3 1111.8,926.3 1112.6,928.4 1113.7,915.6 1114.4,883.8 1115.0,860.4 1115.6,851.9 1116.3,860.4 1117.2,873.1 1117.9,881.6 1119.0,883.8 1120.6,884.8 1122.2,883.8 1123.8,882.7 1125.4,881.6 1127.0,880.6 1128.5,881.6 1130.1,883.8 1131.7,881.6 1133.3,880.6 1134.9,881.6 1136.5,885.9 1138.1,896.5 1139.2,902.9 1140.2,901.8 1141.8,896.5 1143.4,890.1 1145.0,885.9 1146.6,881.6 1148.2,879.5 1149.8,879.5 1150.9,888.0 1151.9,900.8 1153.0,915.6 1154.6,923.1 1156.2,926.3 1157.8,927.3 1158.8,915.6 1159.4,883.8 1159.6,893.1 1160.3,856.3 1161.5,846.0 1163.0,848.9 1164.7,860.7 1166.2,872.5 1167.7,872.5 1169.9,871.0 1172.1,875.4 1174.3,887.2 1176.5,893.1 1178.0,887.2 1179.5,884.2 1181.7,881.3 1183.9,879.8 1186.1,884.2 1187.6,893.1 1189.0,907.8 1190.5,919.6 1192.0,924.0 1193.4,915.2 1194.2,893.1 1195.6,901.9 1197.1,916.6 1199.3,915.2 1200.8,910.7 1202.3,893.1 1203.7,871.0 1205.2,851.8 1206.7,840.1 1208.2,846.0 1209.6,856.3 1211.1,863.6 1212.6,871.0 1214.1,885.7 1215.5,913.7 1217.0,910.7 1218.5,907.8 1220.7,893.1 1222.2,882.8 1223.6,904.9 1224.4,922.5 1225.1,952.0 1225.8,954.9 1226.6,922.5 1227.3,878.4 1228.0,856.3 1229.5,841.5 1231.0,837.1 1232.5,846.0 1233.9,856.3 1235.4,871.0 1236.9,885.7 1238.4,878.4 1239.8,863.6 1241.3,859.2" fill="none" stroke="#0000ff" stroke-width="3.0" stroke-linejoin="round" stroke-linecap="round"/>
<polyline points="154.8,852.3 156.1,854.9 157.4,860.2 158.7,854.9 160.7,849.7 162.6,851.0 164.6,853.6 165.9,862.8 167.2,866.7 169.2,852.3 170.5,845.8 171.8,852.3 173.7,857.6 175.7,856.2 177.7,857.6 179.6,854.9 180.9,871.9 182.2,881.1 183.6,883.7 185.5,886.3 186.2,865.4 187.5,845.8 188.8,843.2 189.4,858.9 190.7,878.5 192.1,858.9 193.4,832.7 194.7,817.0 196.0,826.2 197.9,834.0 199.2,839.2 200.6,843.2 202.5,844.5 204.5,847.1 205.8,852.3 207.1,858.9 208.4,871.9 209.7,891.6 211.0,902.0 212.3,906.0 213.6,902.0 214.7,865.4 215.6,839.2 216.9,846.2 218.2,927.5 219.6,893.4 222.2,882.9 224.8,919.6 226.1,972.0 227.4,1011.3 228.7,1019.2 229.2,945.8 230.0,841.0 230.8,736.2 231.3,724.4 232.7,762.4 233.4,841.0 234.5,867.2 236.1,814.8 237.1,820.0 238.7,827.9 239.7,867.2 240.5,919.6 241.8,893.4 243.1,867.2 244.4,846.2 247.1,835.8 249.7,841.0 252.3,846.2 252.6,868.5 253.9,842.4 255.2,833.2 256.5,842.4 257.9,852.8 259.8,854.1 261.8,851.5 263.1,855.4 265.1,863.3 267.0,868.5 268.3,855.4 269.6,833.2 270.9,828.0 272.3,839.7 273.6,868.5 274.2,879.0 275.5,863.3 277.5,860.7 279.5,862.0 281.4,855.4 282.7,852.8 284.0,859.4 285.3,868.5 286.6,879.0 288.0,888.2 289.3,881.6 290.6,862.0 291.9,854.1 293.2,858.1 294.5,881.6 295.8,875.1 297.1,862.0 298.4,855.4 299.7,862.0 301.0,873.8 302.4,888.2 303.7,892.1 305.0,889.5 306.3,886.9 307.6,892.1 308.9,898.6 310.2,911.7 311.5,907.8 312.8,888.2 313.5,868.5 314.8,864.6 316.8,864.6 318.7,864.6 320.0,867.2 321.3,873.8 322.6,873.8 324.0,872.5 325.9,872.5 327.9,873.8 329.8,875.1 331.8,876.4 333.8,876.4 335.1,875.1 337.0,873.8 339.0,876.4 341.0,880.3 342.9,881.6 344.9,882.9 346.9,884.2 350.0,885.5 350.6,884.0 352.5,874.6 354.4,880.2 356.3,887.7 359.1,885.9 361.9,882.1 364.7,887.7 367.6,887.7 370.4,884.0 373.2,882.1 375.1,876.5 377.0,868.9 378.8,865.2 381.7,867.1 384.5,867.1 387.3,863.3 389.2,861.4 392.0,860.5 394.8,863.3 397.6,861.4 399.5,858.6 401.4,856.7 404.2,859.5 407.0,861.4 409.8,860.5 412.7,859.5 415.5,857.7 418.3,855.8 420.2,850.2 422.1,852.0 423.9,846.4 425.8,840.8 427.7,846.4 429.6,852.0 431.5,844.5 433.3,840.8 435.2,838.9 437.1,842.6 439.0,838.9 440.9,837.0 442.7,838.9 444.6,839.0 446.9,841.2 449.2,843.5 451.4,850.4 453.7,857.3 456.0,861.8 458.3,864.1 460.6,864.1 462.9,861.8 466.3,859.5 468.6,861.8 470.9,864.1 474.3,861.8 477.7,857.3 481.2,852.7 483.5,845.8 485.8,841.2 488.0,843.5 490.3,845.8 492.6,843.5 494.9,834.4 496.0,829.8 498.3,834.4 500.6,843.5 502.9,852.7 505.2,857.3 507.5,855.0 507.4,850.1 509.8,842.4 512.1,836.2 514.4,833.1 516.0,836.2 517.5,843.9 519.9,850.1 521.4,848.6 523.0,839.3 524.5,823.7 526.1,805.1 527.6,784.9 529.2,761.6 530.7,743.0 532.3,729.0 533.8,728.2 535.4,730.5 536.9,735.2 538.5,743.0 540.0,753.8 540.8,769.4 541.6,789.6 543.2,792.7 545.5,795.8 547.8,800.4 550.1,805.1 552.5,809.8 554.8,814.4 557.1,819.1 558.7,823.7 560.2,834.6 561.8,847.0 563.3,856.4 564.9,857.9 567.2,861.0 569.6,864.1 571.9,867.2 572.9,860.1 574.4,851.3 575.9,848.4 577.4,851.3 578.8,852.8 581.0,851.3 583.3,849.8 584.7,846.9 586.2,838.1 587.7,827.7 589.1,821.9 590.6,817.4 592.1,818.9 593.6,821.9 595.0,818.9 596.5,814.5 598.0,816.0 599.5,820.4 601.7,823.3 603.9,821.9 606.1,818.9 608.3,818.9 610.5,824.8 612.0,832.2 613.4,836.6 615.7,838.1 617.9,835.1 620.1,833.6 622.3,836.6 624.5,839.5 626.7,842.5 628.2,839.5 629.6,833.6 631.1,827.7 632.6,823.3 634.1,821.9 635.5,824.8 637.0,829.2 638.5,833.6 640.7,836.6 642.9,838.1 644.4,830.7 645.8,821.9 647.3,817.4 649.5,818.9 651.0,821.9 652.5,824.8 653.9,821.9 655.4,818.9 656.9,821.9 658.4,827.7 659.8,827.7 661.3,823.3 662.8,816.0 664.3,810.1 665.7,814.5 667.2,821.9 668.7,830.7 669.2,832.7 671.8,845.8 674.4,853.7 677.0,851.1 679.6,845.8 682.3,845.8 684.9,830.1 686.2,814.4 687.5,788.2 688.8,780.4 690.9,785.6 692.7,793.5 695.3,801.3 698.0,798.7 700.6,798.7 703.2,804.0 705.8,814.4 708.4,819.7 711.0,824.9 712.4,835.4 713.7,827.5 715.0,809.2 716.3,796.1 717.6,814.4 718.9,848.5 720.7,832.7 722.8,822.3 725.4,819.7 728.1,822.3 730.7,811.8 733.3,819.7 735.9,853.7 738.5,869.4 741.2,872.0 743.8,875.9 746.4,872.0 749.0,869.4 751.6,840.6 754.2,809.2 755.5,793.5 758.2,798.7 758.9,807.2 760.5,815.4 763.0,818.6 765.4,821.9 767.9,828.5 770.3,831.7 772.0,836.6 773.1,848.1 774.4,856.2 776.1,864.4 777.7,871.0 780.1,871.0 782.6,869.3 785.0,872.6 786.7,871.0 788.3,866.0 790.8,866.0 792.4,871.0 794.0,875.9 796.5,875.9 798.9,877.5 800.6,884.0 802.2,893.8 803.8,905.3 805.1,910.2 806.3,897.1 807.9,877.5 809.6,866.0 811.2,866.0 812.8,877.5 814.5,888.9 816.1,902.0 816.9,905.3 818.6,893.8 820.2,887.3 822.6,890.6 824.3,884.0 825.9,875.9 827.5,877.5 829.2,884.0 830.8,888.9 833.3,890.6 835.7,893.8 837.3,900.4 839.0,893.8 839.8,877.5 841.4,862.8 843.9,862.8 845.5,851.3 847.2,844.8 848.8,854.6 850.4,862.8 852.1,857.9 852.6,854.9 853.9,858.9 855.2,873.2 856.5,875.9 857.8,866.7 859.2,861.5 860.5,868.0 861.8,878.5 863.1,891.6 864.4,896.8 865.7,899.4 867.0,888.9 868.3,883.7 869.6,886.3 870.9,891.6 872.2,888.9 873.5,881.1 874.9,878.5 876.2,885.0 877.5,894.2 878.8,888.9 880.1,878.5 881.4,879.8 882.7,891.6 884.0,900.7 885.3,896.8 886.6,890.2 887.9,881.1 889.2,871.9 890.5,875.9 891.9,885.0 893.2,890.2 894.5,894.2 895.8,896.8 897.1,895.5 898.4,891.6 899.7,871.9 901.0,852.3 902.3,848.4 903.0,865.4 903.6,891.6 904.3,911.2 904.9,919.0 906.0,911.2 906.9,885.0 907.6,878.5 908.2,885.0 909.5,898.1 910.8,907.3 912.1,891.6 913.4,865.4 914.1,853.6 915.4,858.9 916.7,871.9 918.0,885.0 919.3,891.6 920.6,904.6 921.9,917.7 923.2,932.1 924.3,924.3 925.2,891.6 925.9,858.9 926.5,847.1 927.8,849.7 928.5,865.4 929.1,885.0 929.8,898.1 931.1,885.0 932.4,875.9 933.7,877.2 935.0,878.5 936.3,874.6 937.6,870.6 939.6,870.6 941.6,871.9 942.9,878.5 944.2,888.9 945.5,898.1 946.8,904.6 948.1,902.0 949.4,885.0 950.7,873.2 952.0,873.2 953.3,875.9 954.6,878.5 955.9,883.7 957.3,886.3 958.6,878.5 959.3,881.2 960.8,873.8 961.9,857.8 963.0,849.3 964.6,852.5 966.2,860.0 967.8,864.2 969.3,864.2 970.9,852.5 972.0,848.3 973.6,850.4 975.2,854.6 976.3,861.0 977.3,867.4 978.9,867.4 980.5,867.4 982.1,863.1 983.7,861.0 985.3,867.4 986.9,875.9 988.5,869.5 989.5,857.8 990.6,854.6 991.7,863.1 992.7,869.5 993.8,879.1 994.9,889.7 995.9,898.2 997.0,898.2 998.0,884.4 999.1,879.1 1000.2,881.2 1001.2,884.4 1002.8,882.3 1004.4,873.8 1006.0,867.4 1007.6,860.0 1008.7,857.8 1009.7,861.0 1010.8,866.3 1011.9,870.6 1013.5,875.9 1015.0,879.1 1016.6,880.1 1018.2,879.1 1019.8,874.8 1021.4,875.9 1023.0,879.1 1024.1,884.4 1025.1,898.2 1026.2,911.0 1027.3,913.1 1028.3,905.7 1029.4,892.9 1030.5,884.4 1031.5,886.5 1033.1,891.8 1034.7,890.8 1036.3,886.5 1037.9,895.0 1039.5,900.3 1041.1,895.0 1042.7,879.1 1043.7,863.1 1044.5,850.4 1045.3,844.0 1046.4,850.4 1047.5,863.1 1048.5,879.1 1049.6,889.7 1050.7,899.3 1051.7,902.5 1052.8,897.1 1053.8,884.4 1055.4,880.1 1057.0,879.1 1058.6,882.3 1060.2,888.6 1061.8,894.0 1063.4,896.1 1064.8,909.3 1066.4,911.4 1068.0,899.7 1069.6,888.0 1071.2,894.4 1072.8,905.0 1074.3,915.6 1075.9,919.9 1077.5,913.5 1079.1,900.8 1080.7,902.9 1082.3,909.3 1083.9,899.7 1085.5,892.3 1087.6,888.0 1089.2,892.3 1090.8,907.1 1091.9,902.9 1093.5,896.5 1095.1,892.3 1096.7,890.1 1098.3,894.4 1099.9,898.6 1101.4,896.5 1102.5,889.1 1103.6,880.6 1105.2,872.1 1106.8,871.0 1108.4,876.3 1109.9,880.6 1111.5,882.7 1113.1,885.9 1114.7,894.4 1116.3,896.5 1117.9,888.0 1119.0,894.4 1120.6,906.1 1122.2,912.5 1123.8,911.4 1125.4,900.8 1126.4,892.3 1128.0,885.9 1129.6,884.8 1131.2,881.6 1132.8,878.4 1134.4,876.3 1136.0,875.3 1137.6,879.5 1139.2,888.0 1140.8,890.1 1142.4,879.5 1144.0,865.7 1145.5,856.1 1147.1,860.4 1148.2,871.0 1149.3,882.7 1150.9,892.3 1151.9,900.8 1153.0,902.9 1154.0,898.6 1155.1,887.0 1156.2,873.1 1157.2,862.5 1158.8,862.5 1159.6,872.5 1161.0,875.4 1163.3,878.4 1164.7,885.7 1166.2,893.1 1167.7,896.0 1168.4,878.4 1169.9,863.6 1171.4,856.3 1173.6,854.8 1175.0,860.7 1176.5,869.5 1178.0,866.6 1179.5,860.7 1180.9,869.5 1182.4,884.2 1183.9,890.1 1185.3,884.2 1186.8,876.9 1188.3,873.9 1189.8,881.3 1191.2,890.1 1192.7,893.1 1194.2,872.5 1195.6,851.8 1197.1,840.1 1198.6,841.5 1200.1,863.6 1201.5,881.3 1203.0,856.3 1204.2,835.6 1205.7,838.6 1207.1,856.3 1208.2,878.4 1208.9,900.4 1210.4,906.3 1211.6,878.4 1212.3,841.5 1213.0,815.0 1214.5,818.0 1216.0,823.9 1217.0,834.2 1218.5,851.8 1219.9,857.7 1222.2,857.7 1223.6,846.0 1225.1,831.2 1226.6,834.2 1228.0,846.0 1229.5,853.3 1231.0,850.4 1232.5,848.9 1233.9,851.8 1235.4,854.8 1236.9,848.9 1238.4,841.5 1239.8,837.1 1241.3,835.6" fill="none" stroke="#ff0000" stroke-width="3.0" stroke-linejoin="round" stroke-linecap="round"/>
<rect x="140.0" y="600.9" width="11.6" height="561.1" fill="#000" fill-opacity="0.35"/>
<rect x="216.3" y="600.9" width="40.1" height="561.1" fill="#000" fill-opacity="0.35"/>
<rect x="413.8" y="600.9" width="8.4" height="561.1" fill="#000" fill-opacity="0.35"/>
<rect x="434.0" y="600.9" width="20.8" height="561.1" fill="#000" fill-opacity="0.35"/>
<rect x="497.9" y="600.9" width="33.4" height="561.1" fill="#000" fill-opacity="0.35"/>
<rect x="572.5" y="600.9" width="27.5" height="561.1" fill="#000" fill-opacity="0.35"/>
<rect x="1100.3" y="600.9" width="13.6" height="561.1" fill="#000" fill-opacity="0.35"/>
<line x1="233.1" y1="605.9" x2="233.1" y2="1157.0" stroke="#000" stroke-opacity="0.45" stroke-width="1.4"/>
</g>
<line x1="237.9" y1="1157.0" x2="237.9" y2="1144.7" stroke="#000" stroke-width="2.8"/>
<line x1="237.9" y1="605.9" x2="237.9" y2="618.2" stroke="#000" stroke-width="2.8"/>
<line x1="329.4" y1="1157.0" x2="329.4" y2="1144.7" stroke="#000" stroke-width="2.8"/>
<line x1="329.4" y1="605.9" x2="329.4" y2="618.2" stroke="#000" stroke-width="2.8"/>
<line x1="424.0" y1="1157.0" x2="424.0" y2="1144.7" stroke="#000" stroke-width="2.8"/>
<line x1="424.0" y1="605.9" x2="424.0" y2="618.2" stroke="#000" stroke-width="2.8"/>
<line x1="515.5" y1="1157.0" x2="515.5" y2="1144.7" stroke="#000" stroke-width="2.8"/>
<line x1="515.5" y1="605.9" x2="515.5" y2="618.2" stroke="#000" stroke-width="2.8"/>
<line x1="610.0" y1="1157.0" x2="610.0" y2="1144.7" stroke="#000" stroke-width="2.8"/>
<line x1="610.0" y1="605.9" x2="610.0" y2="618.2" stroke="#000" stroke-width="2.8"/>
<line x1="704.5" y1="1157.0" x2="704.5" y2="1144.7" stroke="#000" stroke-width="2.8"/>
<line x1="704.5" y1="605.9" x2="704.5" y2="618.2" stroke="#000" stroke-width="2.8"/>
<line x1="793.0" y1="1157.0" x2="793.0" y2="1144.7" stroke="#000" stroke-width="2.8"/>
<line x1="793.0" y1="605.9" x2="793.0" y2="618.2" stroke="#000" stroke-width="2.8"/>
<line x1="887.5" y1="1157.0" x2="887.5" y2="1144.7" stroke="#000" stroke-width="2.8"/>
<line x1="887.5" y1="605.9" x2="887.5" y2="618.2" stroke="#000" stroke-width="2.8"/>
<line x1="979.0" y1="1157.0" x2="979.0" y2="1144.7" stroke="#000" stroke-width="2.8"/>
<line x1="979.0" y1="605.9" x2="979.0" y2="618.2" stroke="#000" stroke-width="2.8"/>
<line x1="1073.6" y1="1157.0" x2="1073.6" y2="1144.7" stroke="#000" stroke-width="2.8"/>
<line x1="1073.6" y1="605.9" x2="1073.6" y2="618.2" stroke="#000" stroke-width="2.8"/>
<line x1="1165.1" y1="1157.0" x2="1165.1" y2="1144.7" stroke="#000" stroke-width="2.8"/>
<line x1="1165.1" y1="605.9" x2="1165.1" y2="618.2" stroke="#000" stroke-width="2.8"/>
<line x1="143.0" y1="1141.1" x2="155.3" y2="1141.1" stroke="#000" stroke-width="2.8"/>
<line x1="1259.2" y1="1141.1" x2="1246.9" y2="1141.1" stroke="#000" stroke-width="2.8"/>
<text x="128.8" y="1157.3" text-anchor="end" font-size="45">-30</text>
<line x1="143.0" y1="1011.7" x2="155.3" y2="1011.7" stroke="#000" stroke-width="2.8"/>
<line x1="1259.2" y1="1011.7" x2="1246.9" y2="1011.7" stroke="#000" stroke-width="2.8"/>
<text x="128.8" y="1027.9" text-anchor="end" font-size="45">-15</text>
<line x1="143.0" y1="882.2" x2="155.3" y2="882.2" stroke="#000" stroke-width="2.8"/>
<line x1="1259.2" y1="882.2" x2="1246.9" y2="882.2" stroke="#000" stroke-width="2.8"/>
<text x="128.8" y="898.5" text-anchor="end" font-size="45">0</text>
<line x1="143.0" y1="752.8" x2="155.3" y2="752.8" stroke="#000" stroke-width="2.8"/>
<line x1="1259.2" y1="752.8" x2="1246.9" y2="752.8" stroke="#000" stroke-width="2.8"/>
<text x="128.8" y="769.0" text-anchor="end" font-size="45">15</text>
<line x1="143.0" y1="623.4" x2="155.3" y2="623.4" stroke="#000" stroke-width="2.8"/>
<line x1="1259.2" y1="623.4" x2="1246.9" y2="623.4" stroke="#000" stroke-width="2.8"/>
<text x="128.8" y="639.6" text-anchor="end" font-size="45">30</text>
<rect x="143.0" y="605.9" width="1116.2" height="551.1" fill="none" stroke="#000" stroke-width="3"/>
<line x1="869" y1="654.2" x2="943.6" y2="654.2" stroke="#0000ff" stroke-width="3"/>
<line x1="1069.5" y1="654.2" x2="1144" y2="654.2" stroke="#ff0000" stroke-width="3"/>
<text x="947.4" y="670.1" font-size="45">150m</text>
<text x="1148.6" y="670.1" font-size="45">25m</text>
<text transform="translate(168.8,650.5) scale(1,0.94)" font-size="53.5">(b)</text>
<text x="143.0" y="1212.7" text-anchor="middle" font-size="45">Aug</text>
<text x="237.9" y="1212.7" text-anchor="middle" font-size="45">Sep</text>
<text x="329.4" y="1212.7" text-anchor="middle" font-size="45">Oct</text>
<text x="424.0" y="1212.7" text-anchor="middle" font-size="45">Nov</text>
<text x="515.5" y="1212.7" text-anchor="middle" font-size="45">Dec</text>
<text x="610.0" y="1212.7" text-anchor="middle" font-size="45">Jan</text>
<text x="704.5" y="1212.7" text-anchor="middle" font-size="45">Feb</text>
<text x="793.0" y="1212.7" text-anchor="middle" font-size="45">Mar</text>
<text x="887.5" y="1212.7" text-anchor="middle" font-size="45">Apr</text>
<text x="979.0" y="1212.7" text-anchor="middle" font-size="45">May</text>
<text x="1073.6" y="1212.7" text-anchor="middle" font-size="45">Jun</text>
<text x="1165.1" y="1212.7" text-anchor="middle" font-size="45">Jul</text>
<text x="1259.2" y="1212.7" text-anchor="middle" font-size="45">Aug</text>
<text transform="translate(54.8,290.2) rotate(-90)" text-anchor="middle" font-size="49.5">Probability /%</text>
<text transform="translate(51,1025.5) rotate(-90)" font-size="49.5">VHT / W</text>
<circle cx="39.3" cy="821.3" r="3" fill="#232323"/>
<text transform="translate(51,812.8) rotate(-90)" font-size="49.5">m</text>
<text transform="translate(27.2,771.2) rotate(-90)" font-size="40">-2</text>
</svg>
</body></html>
